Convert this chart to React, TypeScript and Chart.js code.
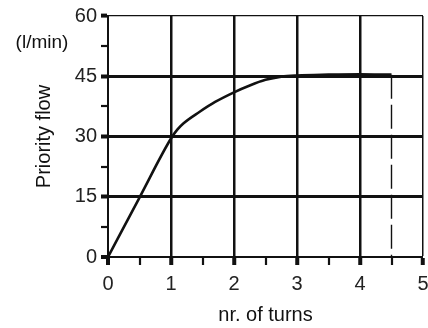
import React, { useEffect, useRef } from "react";
import { Chart, registerables } from "chart.js";

Chart.register(...registerables);

const turns = [0, 0.5, 1.0, 1.1, 1.2, 1.45, 1.7, 2.0, 2.25, 2.5, 2.75, 3.0, 3.5, 4.0, 4.5];
const flow = [0, 14.8, 29.5, 31.7, 33.3, 36.1, 38.6, 41.0, 42.7, 44.1, 44.9, 45.2, 45.4, 45.5, 45.4];
const limitTurns = [4.5, 4.5];
const limitFlow = [45.4, 0];
const yTickLabels = [0, 15, 30, 45, 60];
const xTickLabels = [0, 1, 2, 3, 4, 5];
const yTitle = "Priority flow";
const yUnit = "(l/min)";
const xTitle = "nr. of turns";

const FONT = "'Liberation Sans', Arial, sans-serif";
const INK = "#111";

const unitPlugin = {
  id: "unitLabel",
  afterDraw(chart: any) {
    const { ctx } = chart;
    ctx.save();
    ctx.font = `19px ${FONT}`;
    ctx.fillStyle = INK;
    ctx.textAlign = "center";
    ctx.textBaseline = "middle";
    ctx.fillText(yUnit, 42, 43);
    ctx.restore();
  },
};

export default function App() {
  const ref = useRef<HTMLCanvasElement>(null);
  useEffect(() => {
    document.body.style.margin = "0";
    const chart = new Chart(ref.current!, {
      type: "line",
      data: {
        datasets: [
          {
            data: turns.map((x, i) => ({ x, y: flow[i] })),
            borderColor: INK,
            borderWidth: 2.6,
            pointRadius: 0,
            cubicInterpolationMode: "monotone",
            fill: false,
          },
          {
            data: limitTurns.map((x, i) => ({ x, y: limitFlow[i] })),
            borderColor: INK,
            borderWidth: 1.4,
            borderDash: [24, 6],
            pointRadius: 0,
            fill: false,
          },
        ],
      },
      plugins: [unitPlugin],
      options: {
        responsive: false,
        animation: false,
        events: [],
        layout: { padding: { left: 0, top: 16, right: 5, bottom: 0 } },
        plugins: { legend: { display: false }, tooltip: { enabled: false } },
        scales: {
          x: {
            type: "linear",
            min: 0,
            max: 5,
            afterBuildTicks: (s: any) => {
              const t: any[] = [];
              for (let i = 0; i <= 10; i++) t.push({ value: i / 2 });
              s.ticks = t;
            },
            afterFit: (s: any) => {
              s.height = 71;
              s.paddingLeft = 0;
              s.paddingRight = 0;
            },
            ticks: {
              autoSkip: false,
              maxRotation: 0,
              padding: 7,
              color: "#222",
              font: { family: FONT, size: 20 },
              callback: (v: any) => (xTickLabels.includes(Number(v)) ? String(v) : ""),
            },
            grid: {
              drawTicks: true,
              tickLength: 8,
              lineWidth: (c: any) => {
                const v = c.tick ? c.tick.value : 0;
                if (v === 0) return 0;
                if (v === 5) return 1.5;
                return Number.isInteger(v) ? 2.5 : 0;
              },
              color: INK,
              tickWidth: (c: any) => (c.tick && Number.isInteger(c.tick.value) ? 4 : 2.2),
              tickColor: INK,
            },
            border: { display: true, width: 2, color: INK },
            title: {
              display: true,
              text: xTitle,
              color: INK,
              font: { family: FONT, size: 20 },
              padding: { top: 0, bottom: 1 },
            },
          },
          y: {
            type: "linear",
            min: 0,
            max: 60,
            afterBuildTicks: (s: any) => {
              const t: any[] = [];
              for (let i = 0; i <= 8; i++) t.push({ value: i * 7.5 });
              s.ticks = t;
            },
            afterFit: (s: any) => {
              s.width = 108;
              s.paddingTop = 0;
              s.paddingBottom = 0;
            },
            ticks: {
              autoSkip: false,
              padding: 4,
              color: "#222",
              font: { family: FONT, size: 20 },
              callback: (v: any) => (yTickLabels.includes(Number(v)) ? String(v) : ""),
            },
            grid: {
              drawTicks: true,
              tickLength: 7,
              lineWidth: (c: any) => {
                const v = c.tick ? c.tick.value : 0;
                if (v === 0) return 0;
                if (v === 60) return 1.2;
                return v % 15 === 0 ? 3 : 0;
              },
              color: INK,
              tickWidth: (c: any) => (c.tick && c.tick.value % 15 === 0 ? 4 : 2.2),
              tickColor: INK,
            },
            border: { display: true, width: 2, color: INK },
            title: {
              display: true,
              text: yTitle,
              color: INK,
              font: { family: FONT, size: 20 },
              padding: { top: 32, bottom: 0 },
            },
          },
        },
      },
    } as any);
    return () => chart.destroy();
  }, []);
  return (
    <div style={{ width: 428, height: 328, background: "#fff" }}>
      <canvas ref={ref} width={428} height={328} style={{ display: "block" }} />
    </div>
  );
}
